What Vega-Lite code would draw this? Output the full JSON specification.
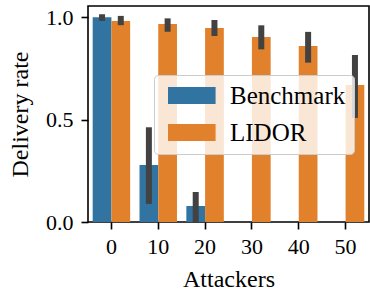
{
  "$schema": "https://vega.github.io/schema/vega-lite/v6.json",
  "width": 281,
  "height": 216,
  "autosize": "none",
  "padding": {"left": 88, "top": 6, "right": 1, "bottom": 68},
  "data": {
    "values": [
      {"Attackers": 0, "group": "Benchmark", "value": 1.0, "lo": 0.997, "hi": 1.0},
      {"Attackers": 0, "group": "LIDOR", "value": 0.982, "lo": 0.976, "hi": 0.992},
      {"Attackers": 10, "group": "Benchmark", "value": 0.278, "lo": 0.103, "hi": 0.448},
      {"Attackers": 10, "group": "LIDOR", "value": 0.967, "lo": 0.944, "hi": 0.98},
      {"Attackers": 20, "group": "Benchmark", "value": 0.078, "lo": 0.0, "hi": 0.132},
      {"Attackers": 20, "group": "LIDOR", "value": 0.948, "lo": 0.923, "hi": 0.972},
      {"Attackers": 30, "group": "Benchmark", "value": 0.0, "lo": null, "hi": null},
      {"Attackers": 30, "group": "LIDOR", "value": 0.904, "lo": 0.858, "hi": 0.946},
      {"Attackers": 40, "group": "Benchmark", "value": 0.0, "lo": null, "hi": null},
      {"Attackers": 40, "group": "LIDOR", "value": 0.86, "lo": 0.793, "hi": 0.914},
      {"Attackers": 50, "group": "Benchmark", "value": 0.0, "lo": null, "hi": null},
      {"Attackers": 50, "group": "LIDOR", "value": 0.669, "lo": 0.523, "hi": 0.801}
    ]
  },
  "encoding": {
    "x": {
      "field": "Attackers",
      "type": "ordinal",
      "title": "Attackers",
      "scale": {"paddingInner": 0.2, "paddingOuter": 0.1},
      "axis": {"labelAngle": 0, "labelPadding": 7, "titlePadding": 10}
    },
    "xOffset": {
      "field": "group",
      "type": "nominal",
      "scale": {"domain": ["Benchmark", "LIDOR"], "paddingInner": 0, "paddingOuter": 0}
    }
  },
  "layer": [
    {
      "mark": {"type": "bar"},
      "encoding": {
        "y": {
          "field": "value",
          "type": "quantitative",
          "title": "Delivery rate",
          "scale": {"domain": [0, 1.055], "nice": false},
          "axis": {"values": [0, 0.5, 1.0], "format": ".1f", "labelPadding": 8, "titlePadding": 13}
        },
        "color": {
          "field": "group",
          "type": "nominal",
          "scale": {"domain": ["Benchmark", "LIDOR"], "range": ["#3274a1", "#e1812c"]},
          "legend": {
            "title": null,
            "orient": "none",
            "legendX": 66,
            "legendY": 69,
            "fillColor": "rgba(255,255,255,0.8)",
            "strokeColor": "#cccccc",
            "cornerRadius": 4,
            "padding": 8,
            "symbolType": "M-0.765,-1H4.835V1H-0.765Z",
            "symbolSize": 289,
            "symbolStrokeWidth": 0,
            "symbolOpacity": 1,
            "labelFont": "Liberation Serif",
            "labelFontSize": 25,
            "labelColor": "black",
            "labelOffset": 43,
            "rowPadding": 11
          }
        }
      }
    },
    {
      "transform": [{"filter": "isValid(datum.lo)"}],
      "mark": {"type": "rule", "color": "#424242", "strokeWidth": 6, "strokeCap": "square", "clip": true},
      "encoding": {
        "y": {"field": "lo", "type": "quantitative"},
        "y2": {"field": "hi"}
      }
    }
  ],
  "config": {
    "view": {"stroke": "black", "strokeWidth": 1.6},
    "axis": {
      "domain": false,
      "grid": false,
      "ticks": true,
      "tickColor": "black",
      "tickWidth": 1.6,
      "tickSize": 7,
      "labelFont": "Liberation Serif",
      "titleFont": "Liberation Serif",
      "labelFontSize": 22,
      "titleFontSize": 24,
      "titleFontWeight": "normal",
      "labelColor": "black",
      "titleColor": "black"
    }
  }
}
